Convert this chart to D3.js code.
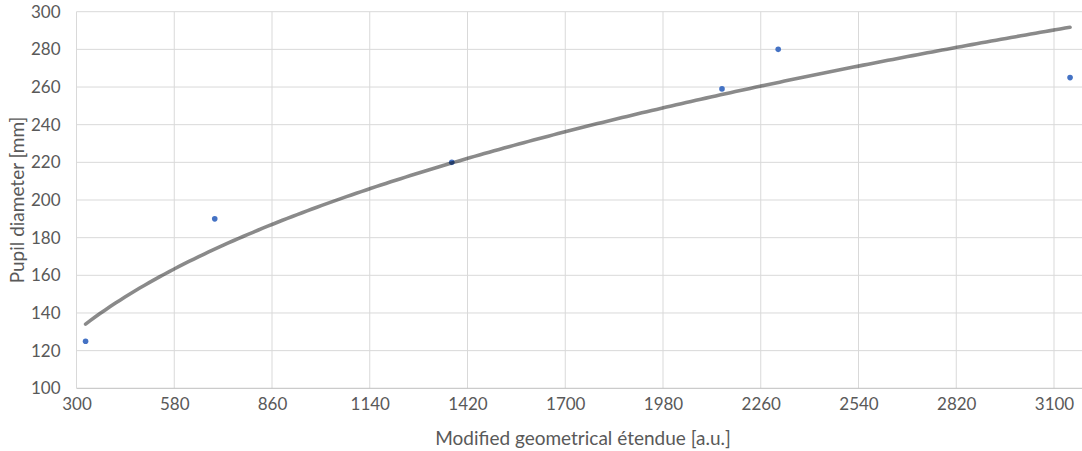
<!DOCTYPE html>
<html>
<head>
<meta charset="utf-8">
<script src="https://cdn.jsdelivr.net/npm/d3@7"></script>
<style>
  html, body { margin: 0; padding: 0; background: #fff; }
  svg { display: block; font-family: Lato, "Open Sans", sans-serif; }
</style>
</head>
<body>
<svg id="chart" width="1082" height="451"></svg>
<script>
// Measured samples: modified geometrical étendue vs. pupil diameter
const etendue = [326, 696, 1375, 2149, 2310, 3146];
const pupilDiameter = [125, 190, 220, 259, 280, 265];

const xTicks = [300, 580, 860, 1140, 1420, 1700, 1980, 2260, 2540, 2820, 3100];
const yTicks = [100, 120, 140, 160, 180, 200, 220, 240, 260, 280, 300];
const xMax = 3380;

const xTitle = "Modified geometrical étendue [a.u.]";
const yTitle = "Pupil diameter [mm]";

(function draw() {
  const svg = d3.select("#chart");
  const plotLeft = 76.5, plotTop = 11.7, plotBottom = 388.3;
  const step = 97.75;
  const font = "Lato, 'Open Sans', sans-serif";

  const x = d3.scaleLinear().domain([300, xMax]).range([plotLeft, plotLeft + step * 11]);
  const y = d3.scaleLinear().domain([100, 300]).range([plotBottom, plotTop]);

  // Gridlines
  const grid = svg.append("g");
  grid.selectAll("line.v").data(xTicks.slice(1).concat([xMax])).join("line")
    .attr("x1", d => x(d)).attr("x2", d => x(d))
    .attr("y1", plotTop).attr("y2", plotBottom)
    .attr("stroke", "#d9d9d9").attr("stroke-width", 1);
  grid.selectAll("line.h").data(yTicks.slice(1)).join("line")
    .attr("x1", plotLeft).attr("x2", x(xMax))
    .attr("y1", d => y(d)).attr("y2", d => y(d))
    .attr("stroke", "#d9d9d9").attr("stroke-width", 1);

  // Axis lines
  svg.append("line").attr("x1", plotLeft).attr("x2", x(xMax))
    .attr("y1", plotBottom).attr("y2", plotBottom).attr("stroke", "#bfbfbf");
  svg.append("line").attr("x1", plotLeft).attr("x2", plotLeft)
    .attr("y1", plotTop).attr("y2", plotBottom).attr("stroke", "#d9d9d9");

  // Tick labels
  const xAxis = d3.axisBottom(x).tickValues(xTicks).tickFormat(d3.format("d"))
    .tickSize(0).tickPadding(10);
  svg.append("g").attr("transform", `translate(0,${plotBottom})`).call(xAxis)
    .call(g => g.select(".domain").remove())
    .selectAll("text").attr("fill", "#595959").style("font-size", "17px")
    .style("font-family", font);

  const yAxis = d3.axisLeft(y).tickValues(yTicks).tickFormat(d3.format("d"))
    .tickSize(0).tickPadding(16);
  svg.append("g").attr("transform", `translate(${plotLeft},0)`).call(yAxis)
    .call(g => g.select(".domain").remove())
    .selectAll("text").attr("fill", "#595959").style("font-size", "17px")
    .style("font-family", font);

  // Data points
  svg.append("g").selectAll("circle").data(etendue).join("circle")
    .attr("cx", d => x(d)).attr("cy", (d, i) => y(pupilDiameter[i]))
    .attr("r", 2.8).attr("fill", "#4472c4");

  // Power-law trendline y = a * x^b, least-squares fit in log-log space
  const lx = etendue.map(Math.log), ly = pupilDiameter.map(Math.log);
  const mx = d3.mean(lx), my = d3.mean(ly);
  const b = d3.sum(lx, (v, i) => (v - mx) * (ly[i] - my)) / d3.sum(lx, v => (v - mx) ** 2);
  const a = Math.exp(my - b * mx);
  const [x0, x1] = d3.extent(etendue);
  const curve = d3.range(0, 201).map(k => {
    const xv = x0 + (x1 - x0) * k / 200;
    return [xv, a * Math.pow(xv, b)];
  });
  svg.append("path").datum(curve)
    .attr("d", d3.line().x(d => x(d[0])).y(d => y(d[1])))
    .attr("fill", "none").attr("stroke", "#000").attr("stroke-opacity", 0.46)
    .attr("stroke-width", 3.6).attr("stroke-linecap", "round");

  // Axis titles
  svg.append("text").attr("x", 583).attr("y", 445)
    .attr("text-anchor", "middle").attr("fill", "#595959")
    .style("font-size", "19px").style("font-family", font).text(xTitle);
  svg.append("text").attr("transform", `translate(24,${(plotTop + plotBottom) / 2}) rotate(-90)`)
    .attr("text-anchor", "middle").attr("fill", "#595959")
    .style("font-size", "19px").style("font-family", font).text(yTitle);
})();
</script>
</body>
</html>
